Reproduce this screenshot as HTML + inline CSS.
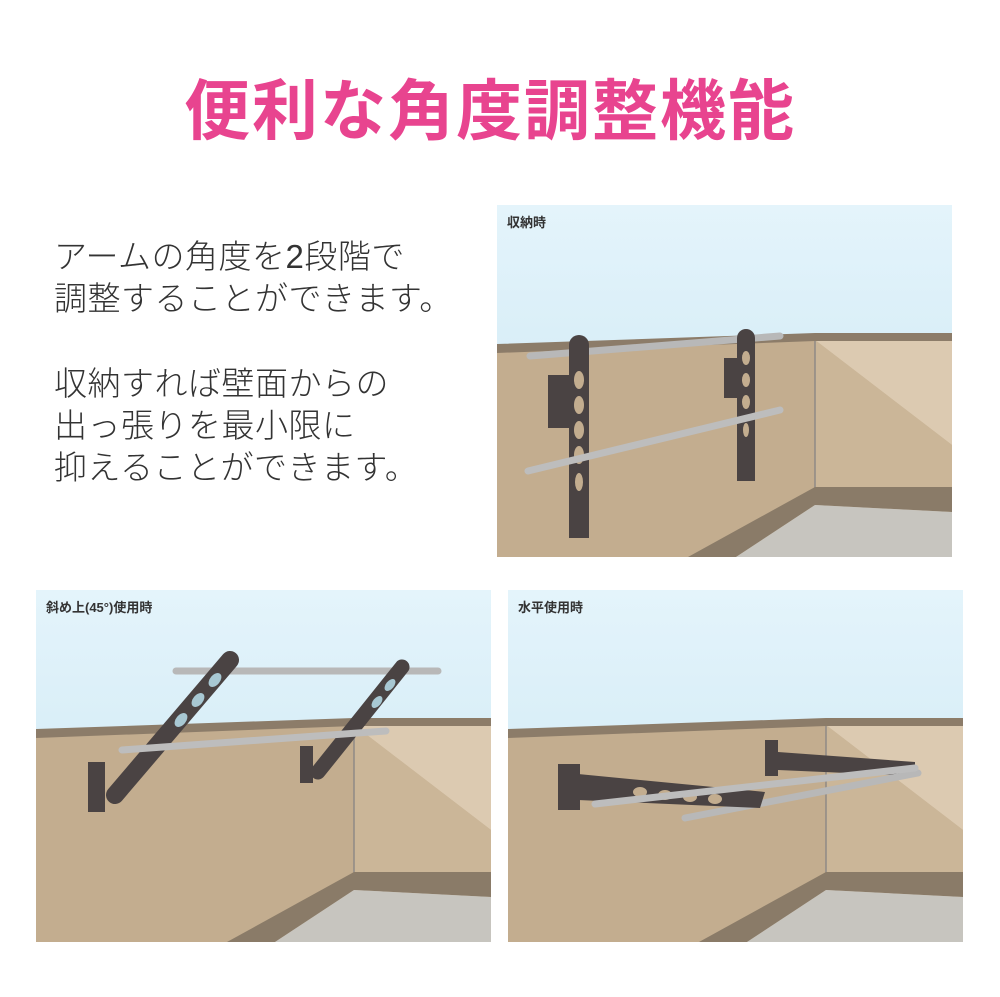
<!DOCTYPE html>
<html><head><meta charset="utf-8"><style>
body{margin:0;background:#fff;width:1000px;height:997px;overflow:hidden;position:relative;font-family:"Liberation Sans","Noto Sans CJK JP",sans-serif}
.t{position:absolute;left:0;width:980px;text-align:center;top:58px;font-size:66px;font-weight:bold;color:#e8448f;letter-spacing:2px}
.b{position:absolute;left:54px;font-size:33px;color:#333;line-height:42px;font-weight:300;letter-spacing:0.5px}
svg{position:absolute;left:0;top:0}
</style></head><body>
<div class="t">便利な角度調整機能</div>
<div class="b" style="top:236px">アームの角度を2段階で<br>調整することができます。</div>
<div class="b" style="top:363px">収納すれば壁面からの<br>出っ張りを最小限に<br>抑えることができます。</div>
<svg width="1000" height="997" xmlns="http://www.w3.org/2000/svg">
<defs>
<linearGradient id="sky" x1="0" y1="0" x2="0" y2="1"><stop offset="0" stop-color="#e4f4fb"/><stop offset="1" stop-color="#c9e6f3"/></linearGradient>
<g id="scene">
<rect x="0" y="0" width="455" height="352" fill="url(#sky)"/>
<polygon points="0,140 318,130 455,130 455,352 0,352" fill="#c3ad8f"/>
<polygon points="318,135 455,135 455,240" fill="#dccab1"/>
<polygon points="318,135 455,240 455,282 318,282" fill="#cbb698"/>
<polygon points="0,139 318,128 455,128 455,136 318,136 0,148" fill="#8c7c69"/>
<line x1="318" y1="136" x2="318" y2="285" stroke="#8f8a86" stroke-width="1.5"/>
<polygon points="318,282 455,282 455,307 318,300 318,282" fill="#8a7b68"/>
<polygon points="318,282 318,300 239,352 191,352" fill="#8a7b68"/>
<polygon points="318,300 455,307 455,352 239,352" fill="#c7c5bf"/>
</g>
</defs>
<use href="#scene" x="497" y="205"/>
<use href="#scene" x="36" y="590"/>
<use href="#scene" x="508" y="590"/>
<g font-size="13" font-weight="bold" fill="#333">
<text x="507" y="227">収納時</text>
<text x="46" y="612">斜め上(45°)使用時</text>
<text x="518" y="612">水平使用時</text>
</g>
<g stroke-linecap="round">
<!-- panel 1 -->
<line x1="530" y1="356" x2="780" y2="336" stroke="#b8b8b8" stroke-width="7"/>
<rect x="548" y="375" width="24" height="53" fill="#4a4343"/>
<rect x="724" y="358" width="14" height="40" fill="#4a4343"/>
<path d="M569,345 a10,10 0 0 1 20,0 V538 H569 Z" fill="#4a4343"/>
<path d="M737,338 a9,9 0 0 1 18,0 V481 H737 Z" fill="#4a4343"/>
<g fill="#c3ad8f"><ellipse cx="579" cy="380" rx="5" ry="9"/><ellipse cx="579" cy="405" rx="5" ry="9"/><ellipse cx="579" cy="430" rx="5" ry="9"/><ellipse cx="579" cy="455" rx="5" ry="9"/><ellipse cx="579" cy="482" rx="4" ry="9"/>
<ellipse cx="746" cy="358" rx="4" ry="7"/><ellipse cx="746" cy="380" rx="4" ry="7"/><ellipse cx="746" cy="402" rx="4" ry="7"/><ellipse cx="746" cy="430" rx="3" ry="7"/></g>
<line x1="528" y1="471" x2="780" y2="410" stroke="#bdbdbd" stroke-width="7"/>
<!-- panel 2 -->
<line x1="176" y1="671" x2="438" y2="671" stroke="#b8b8b8" stroke-width="7"/>
<rect x="88" y="762" width="17" height="50" fill="#4a4343"/>
<rect x="300" y="746" width="13" height="37" fill="#4a4343"/>
<line x1="115" y1="795" x2="230" y2="660" stroke="#4a4343" stroke-width="18"/>
<line x1="318" y1="772" x2="402" y2="667" stroke="#4a4343" stroke-width="15"/>
<g fill="#a8c8d3"><ellipse cx="215" cy="680" rx="5" ry="8" transform="rotate(40 215 680)"/><ellipse cx="198" cy="700" rx="5" ry="8" transform="rotate(40 198 700)"/><ellipse cx="181" cy="720" rx="5" ry="8" transform="rotate(40 181 720)"/>
<ellipse cx="390" cy="685" rx="4" ry="7" transform="rotate(40 390 685)"/><ellipse cx="377" cy="702" rx="4" ry="7" transform="rotate(40 377 702)"/></g>
<line x1="122" y1="750" x2="386" y2="731" stroke="#bdbdbd" stroke-width="7"/>
<!-- panel 3 -->
<rect x="765" y="740" width="13" height="36" fill="#4a4343"/>
<polygon points="778,752 915,762 915,776 778,770" fill="#4a4343"/>
<line x1="685" y1="818" x2="918" y2="773" stroke="#b8b8b8" stroke-width="7"/>
<rect x="558" y="764" width="22" height="46" fill="#4a4343"/>
<polygon points="578,774 765,792 760,808 578,800" fill="#4a4343"/>
<g fill="#c3ad8f"><ellipse cx="640" cy="792" rx="7" ry="5"/><ellipse cx="665" cy="795" rx="7" ry="5"/><ellipse cx="690" cy="797" rx="7" ry="5"/><ellipse cx="715" cy="799" rx="7" ry="5"/></g>
<line x1="595" y1="804" x2="915" y2="768" stroke="#bdbdbd" stroke-width="7"/>
</g>
</svg>
</body></html>
